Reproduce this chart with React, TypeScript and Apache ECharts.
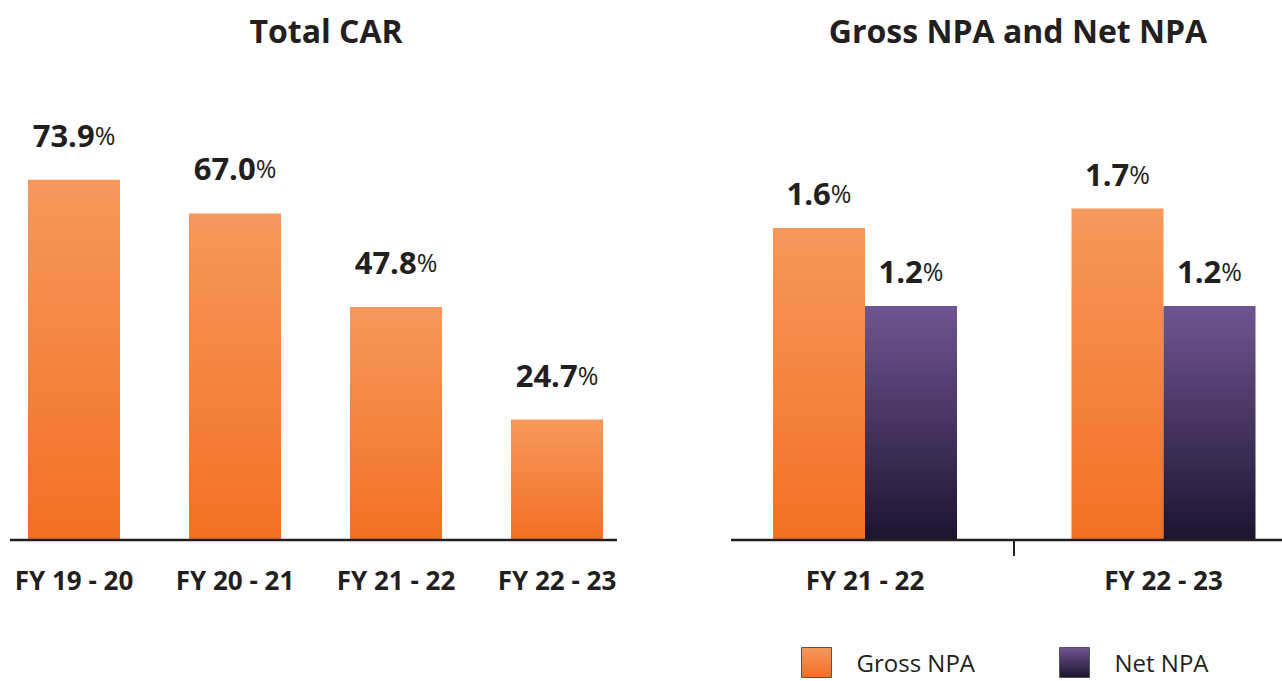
import React, { useEffect, useRef } from "react";
import * as echarts from "echarts";

const carCategories = ["FY 19 - 20", "FY 20 - 21", "FY 21 - 22", "FY 22 - 23"];
const carValues = [73.9, 67.0, 47.8, 24.7];
const npaCategories = ["FY 21 - 22", "FY 22 - 23"];
const grossNpaValues = [1.6, 1.7];
const netNpaValues = [1.2, 1.2];

const FONT = "'Open Sans', 'Noto Sans', sans-serif";
const DARK = "#231f20";

const orangeGrad = () =>
  new echarts.graphic.LinearGradient(0, 0, 0, 1, [
    { offset: 0, color: "#f6985c" },
    { offset: 1, color: "#f37023" },
  ]);
const purpleGrad = () =>
  new echarts.graphic.LinearGradient(0, 0, 0, 1, [
    { offset: 0, color: "#6f5591" },
    { offset: 1, color: "#1d1430" },
  ]);

const labelRich = {
  v: { fontFamily: FONT, fontWeight: "bold", fontSize: 31, color: DARK, lineHeight: 36 },
  p: { fontFamily: FONT, fontWeight: "normal", fontSize: 25, color: DARK, lineHeight: 36 },
};

const legendBase = {
  top: 647,
  padding: 0,
  itemWidth: 30,
  itemHeight: 30,
  icon: "rect",
  textStyle: {
    fontFamily: FONT,
    fontSize: 24,
    lineHeight: 24,
    color: DARK,
    padding: [0, 0, 0, 20],
  },
  itemStyle: { borderColor: "#555555", borderWidth: 1 },
};

export default function App() {
  const ref = useRef<HTMLDivElement>(null);
  useEffect(() => {
    if (!ref.current) return;
    const chart = echarts.init(ref.current, null, { renderer: "svg" });
    const fmt = (p: any) => `{v|${Number(p.value).toFixed(1)}}{p|%}`;
    const axisLabel = { fontFamily: FONT, fontWeight: "bold", fontSize: 26, color: DARK, margin: 27 };
    chart.setOption({
      animation: false,
      backgroundColor: "#ffffff",
      title: [
        {
          text: "Total CAR",
          left: 321,
          top: 9,
          textAlign: "center",
          textStyle: { fontFamily: FONT, fontWeight: "bold", fontSize: 32, color: DARK },
        },
        {
          text: "Gross NPA and Net NPA",
          left: 1013,
          top: 9,
          textAlign: "center",
          textStyle: { fontFamily: FONT, fontWeight: "bold", fontSize: 32, color: DARK },
        },
      ],
      legend: [
        { ...legendBase, left: 801, data: ["Gross NPA"] },
        { ...legendBase, left: 1059, data: ["Net NPA"] },
      ],
      grid: [
        { left: 74, width: 483, top: 150, bottom: 141 },
        { left: 865, width: 298.5, top: 150, bottom: 141 },
      ],
      xAxis: [
        {
          type: "category",
          gridIndex: 0,
          data: carCategories,
          boundaryGap: false,
          axisLine: { show: false },
          axisTick: { show: false },
          axisLabel,
        },
        {
          type: "category",
          gridIndex: 1,
          data: npaCategories,
          boundaryGap: false,
          axisLine: { show: false },
          axisTick: { show: false },
          axisLabel,
        },
      ],
      yAxis: [
        { type: "value", gridIndex: 0, min: 0, max: 80, show: false },
        { type: "value", gridIndex: 1, min: 0, max: 2, show: false },
      ],
      graphic: [
        { type: "line", shape: { x1: 10, y1: 540, x2: 617, y2: 540 }, style: { stroke: DARK, lineWidth: 2.5 }, z: 10 },
        { type: "line", shape: { x1: 731, y1: 540, x2: 1282, y2: 540 }, style: { stroke: DARK, lineWidth: 2.5 }, z: 10 },
        { type: "line", shape: { x1: 1014, y1: 540, x2: 1014, y2: 556 }, style: { stroke: DARK, lineWidth: 2 }, z: 10 },
      ],
      series: [
        {
          name: "Total CAR",
          type: "bar",
          xAxisIndex: 0,
          yAxisIndex: 0,
          data: carValues,
          barWidth: 92,
          itemStyle: { color: orangeGrad() },
          label: { show: true, position: "top", distance: 27, formatter: fmt, rich: labelRich },
        },
        {
          name: "Gross NPA",
          type: "bar",
          xAxisIndex: 1,
          yAxisIndex: 1,
          data: grossNpaValues,
          barWidth: 92,
          barGap: "0%",
          itemStyle: { color: orangeGrad() },
          label: { show: true, position: "top", distance: 17, formatter: fmt, rich: labelRich },
        },
        {
          name: "Net NPA",
          type: "bar",
          xAxisIndex: 1,
          yAxisIndex: 1,
          data: netNpaValues,
          barWidth: 92,
          barGap: "0%",
          itemStyle: { color: purpleGrad() },
          label: { show: true, position: "top", distance: 17, formatter: fmt, rich: labelRich },
        },
      ],
    });
    return () => chart.dispose();
  }, []);
  return (
    <div
      ref={ref}
      style={{ position: "fixed", left: 0, top: 0, width: 1282, height: 681 }}
    />
  );
}
